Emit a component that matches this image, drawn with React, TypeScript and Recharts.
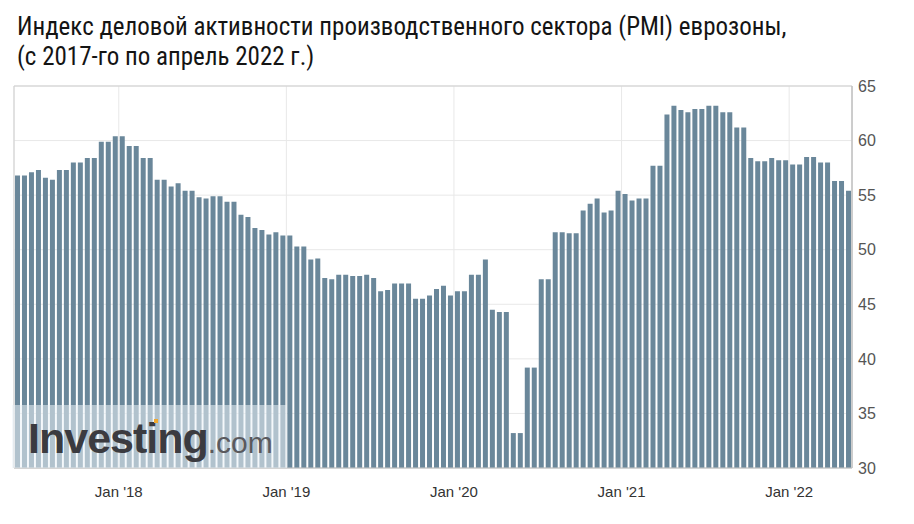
import { Bar, BarChart, CartesianGrid, ReferenceArea, XAxis, YAxis } from "recharts";

const titleLine1 = "Индекс деловой активности производственного сектора (PMI) еврозоны,";
const titleLine2 = "(с 2017-го по апрель 2022 г.)";

// first release: May 2017, two prints per month (flash, final)
const startYear = 2017;
const startMonth = 4;

const pmiValues = [
  56.8, 56.8, 57.1, 57.3, 56.6, 56.4, 57.3, 57.3, 58.0, 58.0, 58.4, 58.4, 59.9, 59.9, 60.4, 60.4, 59.5, 59.5, 58.4, 58.4,
  56.4, 56.4, 55.8, 56.1, 55.4, 55.4, 54.8, 54.7, 54.9, 54.9, 54.4, 54.4, 53.2, 53.0, 52.0, 51.8, 51.4, 51.6, 51.3, 51.3,
  50.3, 50.3, 49.1, 49.2, 47.4, 47.3, 47.7, 47.7, 47.6, 47.6, 47.7, 47.4, 46.2, 46.3, 46.9, 46.9, 46.9, 45.5, 45.5, 45.8,
  46.4, 46.7, 45.8, 46.2, 46.2, 47.7, 47.7, 49.1, 44.5, 44.3, 44.3, 33.2, 33.2, 39.2, 39.2, 47.3, 47.3, 51.6, 51.6, 51.5,
  51.5, 53.6, 54.2, 54.7, 53.4, 53.6, 55.4, 55.1, 54.5, 54.7, 54.7, 57.7, 57.7, 62.4, 63.2, 62.8, 62.6, 62.9, 62.9, 63.2,
  63.2, 62.6, 62.6, 61.2, 61.2, 58.4, 58.1, 58.1, 58.4, 58.2, 58.2, 57.8, 57.8, 58.5, 58.5, 58.0, 58.0, 56.3, 56.3, 55.4,
];

const yTicks = [30, 35, 40, 45, 50, 55, 60, 65];
const xTickLabels = ["Jan '18", "Jan '19", "Jan '20", "Jan '21", "Jan '22"];

const data = pmiValues.map((value, i) => {
  const m = startMonth + Math.floor(i / 2);
  return {
    i,
    value,
    year: startYear + Math.floor(m / 12),
    month: m % 12,
    release: i % 2 === 0 ? "flash" : "final",
  };
});

// year boundary falls between the December flash and final prints
const xTicks = data.filter((d) => d.month === 11 && d.release === "final").map((d) => d.i - 0.5);

const BAR = "#6a879a";

const App = () => {
  return (
    <div
      style={{
        position: "absolute",
        left: 0,
        top: 0,
        width: 914,
        height: 524,
        background: "#fff",
        fontFamily: "'Liberation Sans', Arial, sans-serif",
      }}
    >
      <div
        style={{
          position: "absolute",
          left: 17,
          top: 12,
          fontFamily: "'Liberation Sans Narrow', 'Roboto Condensed', 'Liberation Sans', sans-serif",
          fontSize: 25,
          lineHeight: "30px",
          color: "#141414",
          whiteSpace: "nowrap",
        }}
      >
        <div>{titleLine1}</div>
        <div>{titleLine2}</div>
      </div>

      <div style={{ position: "absolute", left: 0, top: 0 }}>
        <BarChart width={914} height={524} data={data} margin={{ top: 86, right: 0, left: 14, bottom: 26 }}>
          <CartesianGrid stroke="#e8e8e8" />
          <XAxis
            dataKey="i"
            type="number"
            domain={[-0.5, pmiValues.length - 0.5]}
            ticks={xTicks}
            interval={0}
            tickFormatter={(v) => xTickLabels[xTicks.indexOf(v)] ?? ""}
            tickSize={0}
            tickMargin={18}
            height={30}
            axisLine={{ stroke: "#c8c8c8" }}
            tick={{ fill: "#333", fontSize: 15 }}
          />
          <YAxis
            orientation="right"
            domain={[30, 65]}
            ticks={yTicks}
            interval={0}
            width={62}
            tickSize={0}
            tickMargin={6}
            axisLine={{ stroke: "#b8b8b8" }}
            tick={{ fill: "#555", fontSize: 16, textAnchor: "start" }}
          />
          <ReferenceArea
            x1={-0.5}
            x2={pmiValues.length - 0.5}
            y1={30}
            y2={65}
            fill="none"
            stroke="#cfcfcf"
            ifOverflow="visible"
          />
          <Bar dataKey="value" fill={BAR} barSize={5} isAnimationActive={false} />
        </BarChart>
      </div>

      <svg style={{ position: "absolute", left: 12, top: 405 }} width={275} height={63}>
        <rect x={0} y={0} width={275} height={63} fill="rgba(235,242,248,0.55)" />
        <text x={16} y={48} fontFamily="'Liberation Sans', Arial, sans-serif" letterSpacing={-1}>
          <tspan fontSize={43} fontWeight="bold" fill="#3b3b40">
            Investing
          </tspan>
          <tspan fontSize={30} fill="#5a5a5e" letterSpacing={0}>
            .com
          </tspan>
        </text>
        <rect x={142} y={14} width={4} height={4} fill="#f0a830" />
      </svg>
    </div>
  );
};

export default App;
